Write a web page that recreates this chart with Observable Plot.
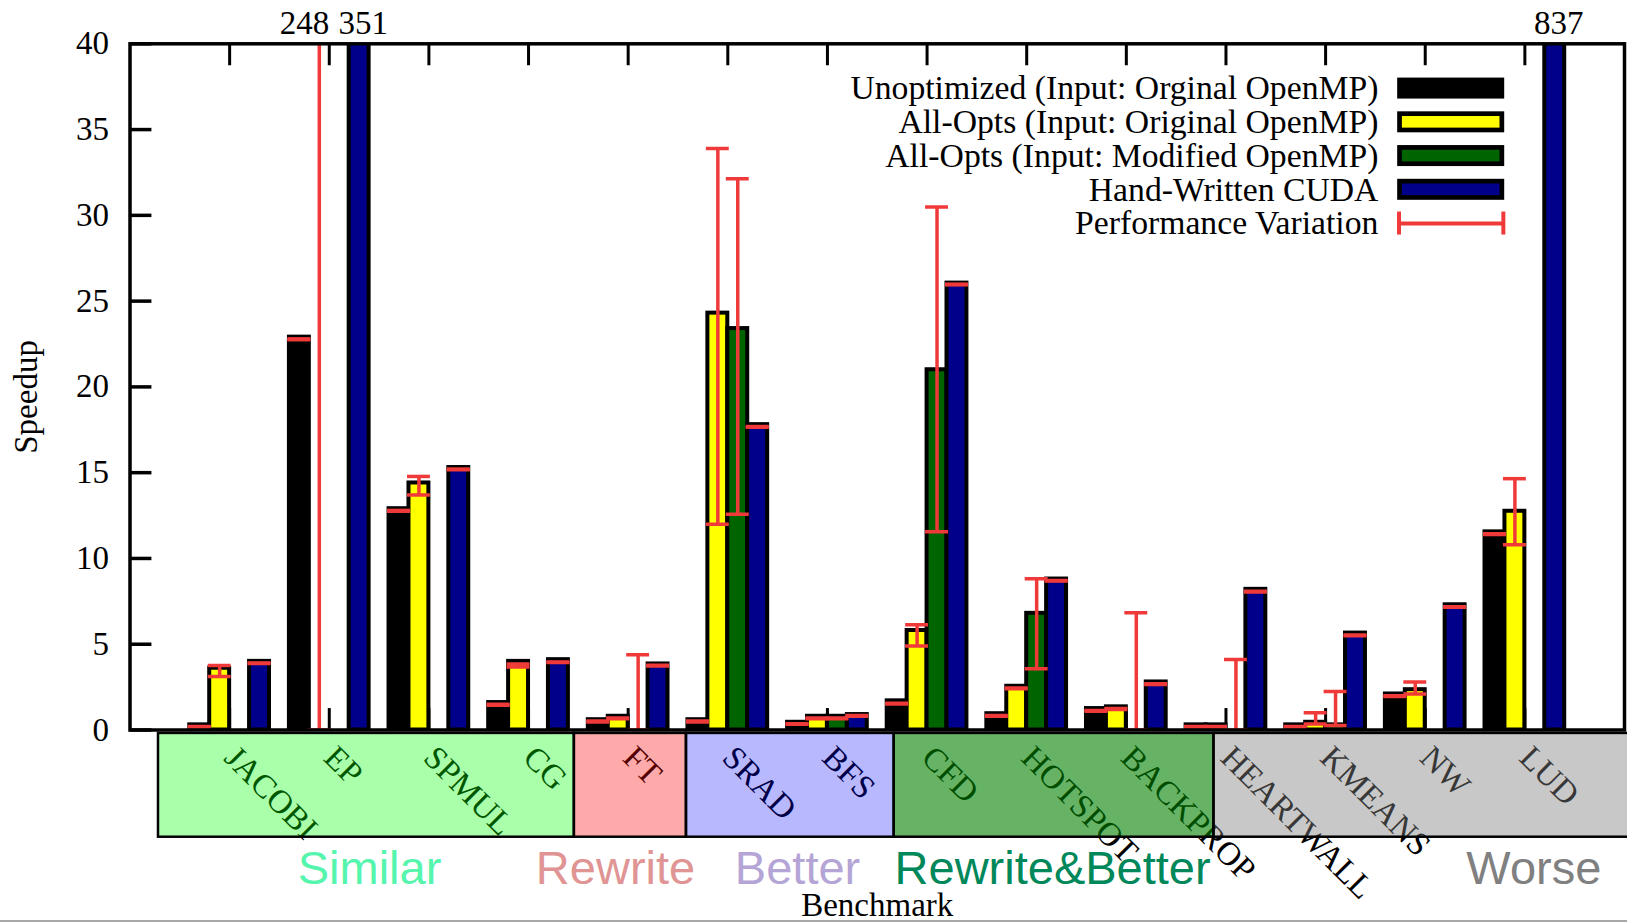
<!DOCTYPE html>
<html>
<head>
<meta charset="utf-8">
<script src="https://cdn.jsdelivr.net/npm/d3@7"></script>
<script src="https://cdn.jsdelivr.net/npm/@observablehq/plot@0.6"></script>
<style>
  html, body { margin: 0; padding: 0; background: #fff; }
  #wrap { position: relative; width: 1627px; height: 923px; overflow: hidden; }
  #baseline { position: absolute; left: 0; top: 920px; width: 1627px; height: 2px; background: #a8a8a8; }
</style>
</head>
<body>
<div id="wrap"><div id="chart"></div><div id="baseline"></div></div>
<script>
// ---------------- DATA ----------------
const benchmarks = ["JACOBI","EP","SPMUL","CG","FT","SRAD","BFS","CFD","HOTSPOT","BACKPROP","HEARTWALL","KMEANS","NW","LUD"];

const seriesNames = [
  "Unoptimized (Input: Orginal OpenMP)",
  "All-Opts (Input: Original OpenMP)",
  "All-Opts (Input: Modified OpenMP)",
  "Hand-Written CUDA"
];
const variationName = "Performance Variation";

// speedups
const unopt   = [0.3, 22.9, 12.9, 1.6, 0.6, 0.6, 0.45, 1.7, 0.95, 1.25, 0.3, 0.3, 2.1, 11.55];
const allOrig = [3.6, null, 14.4, 4.0, 0.8, 24.3, 0.8, 5.8, 2.55, 1.35, 0.3, 0.45, 2.35, 12.75];
const allMod  = [null, null, null, null, null, 23.4, 0.8, 21.0, 6.8, null, null, 0.3, null, null];
const cuda    = [4.0, 351, 15.3, 4.1, 3.85, 17.8, 0.9, 26.05, 8.8, 2.8, 8.2, 5.65, 7.3, 837];

// performance variation (min / max)
const unoptLo   = [0.17, 22.75, 12.75, 1.45, 0.47, 0.47, 0.33, 1.52, 0.8, 1.1, 0.17, 0.17, 1.95, 11.4];
const unoptHi   = [0.21, 22.8, 12.8, 1.5, 0.52, 0.52, 0.37, 1.56, 0.84, 1.14, 0.21, 0.21, 1.99, 11.44];
const allOrigLo = [3.12, 0, 13.7, 3.67, 0.65, 12.0, 0.65, 4.9, 2.4, 1.2, 0.17, 0.35, 2.1, 10.8];
const allOrigHi = [3.76, 248, 14.78, 3.85, 0.7, 33.9, 0.7, 6.13, 2.45, 1.25, 0.21, 1.0, 2.8, 14.65];
const allModLo  = [null, null, null, null, 0, 12.57, 0.65, 11.56, 3.57, 0, 0, 0.26, null, null];
const allModHi  = [null, null, null, null, 4.38, 32.14, 0.7, 30.49, 8.82, 6.83, 4.11, 2.24, null, null];
const cudaLo    = [3.87, 350.8, 15.17, 3.93, 3.73, 17.65, 0.8, 25.95, 8.68, 2.65, 8.05, 5.5, 7.15, 836.8];
const cudaHi    = [3.91, 350.85, 15.21, 3.97, 3.77, 17.69, 0.84, 25.99, 8.72, 2.69, 8.09, 5.54, 7.19, 836.85];

// benchmark groups
const groupNames = ["Similar", "Rewrite", "Better", "Rewrite&Better", "Worse"];
const groupSizes = [4, 1, 2, 3, 4];

const yTicks = [0, 5, 10, 15, 20, 25, 30, 35, 40];

// ---------------- STYLE / LAYOUT ----------------
const seriesColors = ["#000000", "#ffff00", "#006400", "#00008b"];
const red = "#f03a3a";
const groupFill = ["rgba(0,255,0,0.333)", "rgba(255,0,0,0.333)", "rgba(0,0,255,0.28)", "rgba(0,128,0,0.6)", "rgba(128,128,128,0.43)"];
const groupText = ["#55f5ad", "#e09494", "#b4a5d6", "#00875a", "#808080"];
const groupEdges = [-0.714, 3.46, 4.585, 6.67, 9.88, 14.3];   // box edges in x units
const groupLabelX = [1.404, 3.873, 5.70, 8.26, 13.09];
const BAR_W = 0.2;
const CAP = 0.115;
const FS = 33;

const W = 1627, H = 923;

// ---------------- BUILD ----------------
const series = [
  {values: unopt, lo: unoptLo, hi: unoptHi},
  {values: allOrig, lo: allOrigLo, hi: allOrigHi},
  {values: allMod, lo: allModLo, hi: allModHi},
  {values: cuda, lo: cudaLo, hi: cudaHi}
];
const bars = [], errs = [], outLabels = [];
series.forEach((s, k) => {
  benchmarks.forEach((b, i) => {
    const cx = i + (k - 1.5) * BAR_W;
    const v = s.values[i];
    if (v != null) bars.push({cx, v, color: seriesColors[k]});
    if (s.lo[i] != null) errs.push({cx, lo: s.lo[i], hi: s.hi[i]});
    if (v != null && v > 40) outLabels.push({cx, text: String(v), err: false});
    else if (v == null && s.hi[i] != null && s.hi[i] > 40) outLabels.push({cx, text: String(s.hi[i]), err: true});
  });
});
const caps = errs.flatMap(e => [{cx: e.cx, y: e.lo}, {cx: e.cx, y: e.hi}]);
const idx = benchmarks.map((d, i) => i);

const groups = [];
let start = 0;
groupNames.forEach((g, j) => {
  groups.push({name: g, x1: groupEdges[j], x2: groupEdges[j + 1], fill: groupFill[j], text: groupText[j], lx: groupLabelX[j], first: start, last: start + groupSizes[j] - 1});
  start += groupSizes[j];
});

// legend (in data units)
const LEG_TOP = 37.39, LEG_STEP = 1.967, LEG_X1 = 11.747, LEG_X2 = 12.774, LEG_TX = 11.53;
const legRow = r => LEG_TOP - r * LEG_STEP;
const legendSw = seriesNames.map((n, k) => ({name: n, color: seriesColors[k], row: k}));
const legendText = [...seriesNames, variationName].map((n, k) => ({name: n, row: k}));

const chart = Plot.plot({
  width: W, height: H,
  marginLeft: 129.5, marginRight: 3, marginTop: 43.3, marginBottom: H - 729.5,
  x: {domain: [-1, 14], axis: null},
  y: {domain: [0, 40]},
  color: {type: "identity"},
  style: {fontFamily: "'Liberation Serif', 'Times New Roman', serif", fontSize: FS + "px", background: "white", color: "black", overflow: "visible"},
  marks: [
    // benchmark labels under the translucent group boxes
    Plot.text(benchmarks, {x: (d, i) => i, y: -1.72, text: d => d, rotate: 45, textAnchor: "start", lineAnchor: "bottom", dx: -7, fontSize: FS, fill: "black"}),
    Plot.rect(groups, {x1: "x1", x2: "x2", y1: -0.2, y2: -6.25, fill: "fill", stroke: "black", strokeWidth: 2.5}),
    Plot.text(groups, {x: "lx", y: -9.0, text: "name", fill: "text", fontFamily: "'Liberation Sans', Arial, sans-serif", fontSize: 47, textAnchor: "middle", lineAnchor: "bottom"}),

    // ticks
    Plot.ruleX(idx, {x: d => d, y1: 0, y2: 1.25, stroke: "black", strokeWidth: 3}),
    Plot.ruleX(idx, {x: d => d, y1: 40, y2: 38.72, stroke: "black", strokeWidth: 3}),
    Plot.ruleY(yTicks, {y: d => d, x1: -1, x2: -0.78, stroke: "black", strokeWidth: 3.5}),

    // bars
    Plot.rect(bars, {x1: d => d.cx - BAR_W / 2, x2: d => d.cx + BAR_W / 2, y1: 0, y2: "v", fill: "color", stroke: "black", strokeWidth: 4, clip: true}),

    // error bars
    Plot.ruleX(errs, {x: "cx", y1: "lo", y2: "hi", stroke: red, strokeWidth: 3.5, clip: true}),
    Plot.ruleY(caps, {y: "y", x1: d => d.cx - CAP, x2: d => d.cx + CAP, stroke: red, strokeWidth: 3.5, clip: true}),

    Plot.frame({stroke: "black", strokeWidth: 3.5}),
    Plot.axisY({ticks: yTicks, tickSize: 0, tickPadding: 21, label: null, fontSize: FS}),

    // out-of-range values
    Plot.text(outLabels.filter(d => !d.err), {x: "cx", y: 40, text: "text", textAnchor: "middle", dx: 4, dy: -20, fontSize: FS}),
    Plot.text(outLabels.filter(d => d.err), {x: "cx", y: 40, text: "text", textAnchor: "end", dx: 10, dy: -20, fontSize: FS}),

    // legend
    Plot.text(legendText, {x: LEG_TX, y: d => legRow(d.row), text: "name", textAnchor: "end", fontSize: 33.7}),
    Plot.rect(legendSw, {x1: LEG_X1, x2: LEG_X2, y1: d => legRow(d.row) - 0.475, y2: d => legRow(d.row) + 0.475, fill: "color", stroke: "black", strokeWidth: 4.7}),
    Plot.ruleY([legRow(4)], {y: d => d, x1: LEG_X1 - 0.025, x2: LEG_X2 + 0.025, stroke: red, strokeWidth: 4}),
    Plot.ruleX([LEG_X1 - 0.01, LEG_X2 + 0.01], {x: d => d, y1: legRow(4) - 0.67, y2: legRow(4) + 0.67, stroke: red, strokeWidth: 4}),

    // axis titles
    Plot.text(["Benchmark"], {frameAnchor: "bottom", text: d => d, dy: 186, lineAnchor: "bottom", fontSize: FS}),
    Plot.text(["Speedup"], {frameAnchor: "left", text: d => d, dx: -104, dy: 10, rotate: -90, textAnchor: "middle", fontSize: FS})
  ]
});
document.getElementById("chart").appendChild(chart);
</script>
</body>
</html>
